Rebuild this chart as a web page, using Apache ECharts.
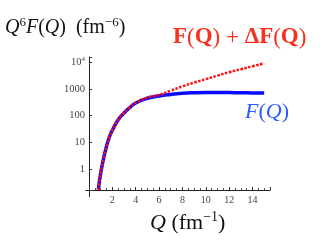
<!DOCTYPE html>
<html>
<head>
<meta charset="utf-8">
<script src="https://cdn.jsdelivr.net/npm/echarts@6/dist/echarts.min.js"></script>
<style>
html,body{margin:0;padding:0;background:#fff;}
#c{width:322px;height:247px;}
</style>
</head>
<body>
<div id="c"></div>
<script>
// Q values (fm^-1)
var qValues = [0.8, 1.0, 1.25, 1.5, 1.75, 2.0, 2.5, 3.0, 3.5, 4.0, 5.0, 6.0, 7.0, 8.0, 9.0, 10.0, 11.0, 12.0, 13.0, 14.0, 15.0];
// Q^6 F(Q) (fm^-6)
var fValues = [0.17, 0.7, 2.5, 7, 16, 28, 70, 125, 200, 295, 440, 540, 615, 675, 710, 725, 725, 720, 710, 700, 690];
// Q^6 (F(Q) + dF(Q)) (fm^-6)
var fPlusValues = [0.17, 0.7, 2.5, 7, 16, 28, 70, 126, 203, 302, 470, 590, 850, 1230, 1700, 2290, 3100, 4170, 5370, 6900, 8900];
// axis ticks
var xTickLabels = [2, 4, 6, 8, 10, 12, 14];
var yTickLabels = [1, 10, 100, 1000, 10000];

var serif = "'Liberation Serif', 'DejaVu Serif', serif";

function pairs(xs, ys){ return xs.map(function(x,i){ return [x, ys[i]]; }); }

function mathRich(size, supSize, color, lh, raise){
  return {
    i: {fontFamily: serif, fontStyle: 'italic', fontSize: size, fill: color, lineHeight: lh, verticalAlign: 'bottom'},
    r: {fontFamily: serif, fontSize: size, fill: color, lineHeight: lh, verticalAlign: 'bottom'},
    s: {fontFamily: serif, fontSize: supSize, fill: color, lineHeight: supSize, verticalAlign: 'bottom', padding: [0, 0, raise, 0]}
  };
}

var chart = echarts.init(document.getElementById('c'), null, {renderer:'canvas'});
chart.setOption({
  animation: false,
  grid: {left: 89, right: 52, top: 57, bottom: 57, containLabel: false},
  xAxis: {
    type: 'value', min: 0, max: 15.5, interval: 2,
    axisLine: {show: true, lineStyle: {color: '#222', width: 1}},
    axisTick: {show: true, inside: true, length: 3, lineStyle: {color: '#333'}},
    minorTick: {show: true, splitNumber: 4, length: 2, lineStyle: {color: '#555'}},
    splitLine: {show: false},
    axisLabel: {
      fontFamily: serif, fontSize: 10, color: '#444', margin: 5,
      formatter: function(v){ return xTickLabels.indexOf(v) >= 0 ? String(v) : ''; }
    }
  },
  yAxis: {
    type: 'log', logBase: 10, min: 0.164, max: 15400,
    axisLine: {show: true, onZero: false, lineStyle: {color: '#222', width: 1}},
    axisTick: {show: true, inside: true, length: 3, lineStyle: {color: '#333'}},
    splitLine: {show: false},
    axisLabel: {
      fontFamily: serif, fontSize: 10.5, color: '#444', margin: 4,
      rich: {b: {fontFamily: serif, fontSize: 10.5, color: '#444'}, s: {fontFamily: serif, fontSize: 7, color: '#444', verticalAlign: 'top', padding: [0,0,5,0]}},
      formatter: function(v){
        for (var i = 0; i < yTickLabels.length; i++) {
          if (Math.abs(v - yTickLabels[i]) / yTickLabels[i] < 1e-6) {
            return yTickLabels[i] === 10000 ? '{b|10}{s|4}' : '{b|' + yTickLabels[i] + '}';
          }
        }
        return '';
      }
    }
  },
  series: [
    {
      type: 'line', data: pairs(qValues, fValues), smooth: true, symbol: 'none', clip: true,
      lineStyle: {color: '#0a0aff', width: 3.5}
    },
    {
      type: 'line', data: pairs(qValues, fPlusValues), smooth: true, symbol: 'none', clip: true,
      lineStyle: {color: '#ff0a0a', width: 2.5, type: [2.5, 1.5]}
    }
  ],
  graphic: [
    {type: 'line', shape: {x1: 85.5, y1: 190.5, x2: 89.5, y2: 190.5}, style: {stroke: '#222', lineWidth: 1}},
    {type: 'line', shape: {x1: 89.5, y1: 190.5, x2: 89.5, y2: 197}, style: {stroke: '#222', lineWidth: 1}},
    {
      type: 'text', left: 5, top: 16,
      style: {
        text: '{i|Q}{s|6}{i|F}{r|(}{i|Q}{r|)  (fm}{s|\u22126}{r|)}',
        rich: mathRich(20, 13, '#111', 22, 9)
      }
    },
    {
      type: 'text', left: 173, top: 26,
      style: {
        text: '{b|F}{r|(}{b|Q}{r|) + }{b|\u0394F}{r|(}{b|Q}{r|)}',
        rich: {
          b: {fontFamily: serif, fontWeight: 'bold', fontSize: 23, fill: '#f5321e'},
          r: {fontFamily: serif, fontSize: 23, fill: '#f5321e'}
        }
      }
    },
    {
      type: 'text', left: 245, top: 101,
      style: {
        text: '{i|F}{r|(}{i|Q}{r|)}',
        rich: {
          i: {fontFamily: serif, fontStyle: 'italic', fontSize: 22, fill: '#2a5cff'},
          r: {fontFamily: serif, fontSize: 22, fill: '#2a5cff'}
        }
      }
    },
    {
      type: 'text', left: 150, top: 210,
      style: {
        text: '{i|Q}{r| (fm}{s|\u22121}{r|)}',
        rich: mathRich(22, 14, '#111', 24, 10)
      }
    }
  ]
});
</script>
</body>
</html>
